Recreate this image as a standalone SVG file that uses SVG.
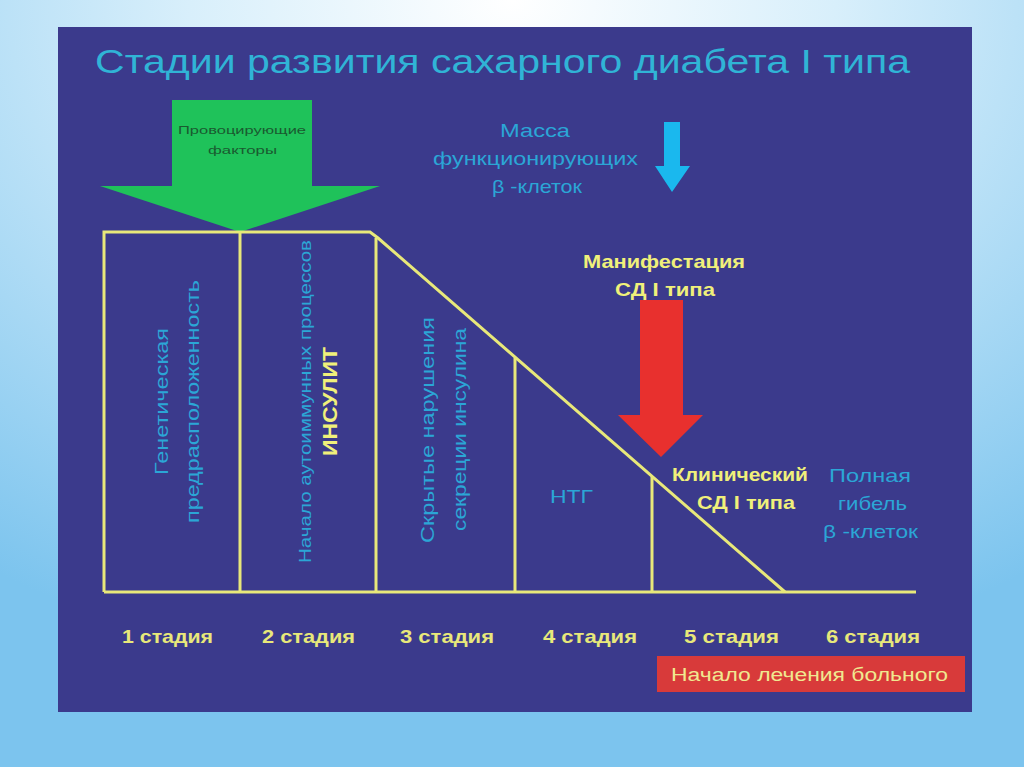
<svg xmlns="http://www.w3.org/2000/svg" width="1024" height="767" viewBox="0 0 1024 767">
<defs>
<radialGradient id="bg" cx="0.5" cy="0" r="0.9">
<stop offset="0" stop-color="#ffffff"/>
<stop offset="0.35" stop-color="#d8effb"/>
<stop offset="1" stop-color="#7cc4ee"/>
</radialGradient>
<style>
.t{font-family:"Liberation Sans",Arial,sans-serif}
.cy{fill:#2ba6d6}
.yl{fill:#f0f07a}
.ln{stroke:#e8e87a;stroke-width:3;fill:none}
.st{font-size:19px;fill:#e8e87a;font-weight:bold}
</style>
</defs>
<rect width="1024" height="767" fill="url(#bg)"/>
<rect x="58" y="27" width="914" height="685" fill="#3b3a8c"/>
<text class="t" x="95" y="73" font-size="34" fill="#30b4d6" textLength="815" lengthAdjust="spacingAndGlyphs">Стадии развития сахарного диабета I типа</text>

<g id="green-arrow">
<polygon points="172,100 312,100 312,186 380,186 240,232 100,186 172,186" fill="#1fc25a"/>
<text class="t" x="178" y="134" font-size="11" fill="#1a5a30" textLength="128" lengthAdjust="spacingAndGlyphs">Провоцирующие</text>
<text class="t" x="208" y="154" font-size="11" fill="#1a5a30" textLength="69" lengthAdjust="spacingAndGlyphs">факторы</text>
</g>

<g id="connectors">
<polyline class="ln" points="104,592 104,232 370,232 378,238 785,592"/>
<line class="ln" x1="104" y1="592" x2="916" y2="592"/>
<line class="ln" x1="240" y1="232" x2="240" y2="592"/>
<line class="ln" x1="376" y1="238" x2="376" y2="592"/>
<line class="ln" x1="515" y1="358" x2="515" y2="592"/>
<line class="ln" x1="652" y1="477" x2="652" y2="592"/>
</g>

<g id="stage1">
<text class="t cy" font-size="18" transform="translate(0,402) rotate(-90)"><tspan x="-73" y="168" textLength="147" lengthAdjust="spacingAndGlyphs">Генетическая</tspan><tspan x="-121" y="199" textLength="243" lengthAdjust="spacingAndGlyphs">предрасположенность</tspan></text>
</g>
<g id="stage2">
<text class="t cy" font-size="17" transform="translate(0,402) rotate(-90)" x="-161" y="311" textLength="323" lengthAdjust="spacingAndGlyphs">Начало аутоиммунных процессов</text>
<text class="t yl" font-size="20" font-weight="bold" transform="translate(0,402) rotate(-90)" x="-54" y="337" textLength="109" lengthAdjust="spacingAndGlyphs">ИНСУЛИТ</text>
</g>
<g id="stage3">
<text class="t cy" font-size="18" transform="translate(0,430) rotate(-90)"><tspan x="-113" y="434" textLength="226" lengthAdjust="spacingAndGlyphs">Скрытые нарушения</tspan><tspan x="-101" y="466" textLength="203" lengthAdjust="spacingAndGlyphs">секреции инсулина</tspan></text>
</g>
<g id="stage4">
<text class="t cy" x="550" y="503" font-size="18" textLength="43" lengthAdjust="spacingAndGlyphs">НТГ</text>
</g>

<g id="mass">
<text class="t cy" font-size="19"><tspan x="500" y="137" textLength="70" lengthAdjust="spacingAndGlyphs">Масса</tspan><tspan x="433" y="165" textLength="205" lengthAdjust="spacingAndGlyphs">функционирующих</tspan><tspan x="492" y="193" textLength="90" lengthAdjust="spacingAndGlyphs">β -клеток</tspan></text>
<polygon points="664,122 680,122 680,166 690,166 672,192 655,166 664,166" fill="#1ab8ee"/>
</g>

<g id="manifest">
<text class="t yl" font-size="19" font-weight="bold"><tspan x="583" y="268" textLength="162" lengthAdjust="spacingAndGlyphs">Манифестация</tspan><tspan x="615" y="296" textLength="100" lengthAdjust="spacingAndGlyphs">СД I типа</tspan></text>
<polygon points="640,300 683,300 683,415 703,415 661,457 618,415 640,415" fill="#e8302e"/>
</g>

<g id="clinical">
<text class="t yl" font-size="19" font-weight="bold"><tspan x="672" y="481" textLength="136" lengthAdjust="spacingAndGlyphs">Клинический</tspan><tspan x="697" y="509" textLength="98" lengthAdjust="spacingAndGlyphs">СД I типа</tspan></text>
</g>
<g id="stage6">
<text class="t cy" font-size="19"><tspan x="829" y="482" textLength="82" lengthAdjust="spacingAndGlyphs">Полная</tspan><tspan x="838" y="510" textLength="69" lengthAdjust="spacingAndGlyphs">гибель</tspan><tspan x="823" y="538" textLength="95" lengthAdjust="spacingAndGlyphs">β -клеток</tspan></text>
</g>

<g id="stages">
<text class="t st" x="122" y="643" textLength="91" lengthAdjust="spacingAndGlyphs">1 стадия</text>
<text class="t st" x="262" y="643" textLength="93" lengthAdjust="spacingAndGlyphs">2 стадия</text>
<text class="t st" x="400" y="643" textLength="94" lengthAdjust="spacingAndGlyphs">3 стадия</text>
<text class="t st" x="543" y="643" textLength="94" lengthAdjust="spacingAndGlyphs">4 стадия</text>
<text class="t st" x="684" y="643" textLength="95" lengthAdjust="spacingAndGlyphs">5 стадия</text>
<text class="t st" x="826" y="643" textLength="94" lengthAdjust="spacingAndGlyphs">6 стадия</text>
</g>

<g id="treatment">
<rect x="657" y="656" width="308" height="36" fill="#d83a3a"/>
<text class="t" x="671" y="681" font-size="18" fill="#f0e890" textLength="277" lengthAdjust="spacingAndGlyphs">Начало лечения больного</text>
</g>
</svg>
